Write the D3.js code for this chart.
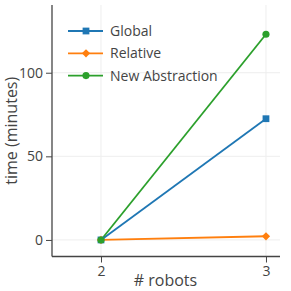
<!DOCTYPE html>
<html><head><meta charset="utf-8">
<script src="https://cdn.jsdelivr.net/npm/d3@7"></script>
<style>body{margin:0;background:#fff}svg{display:block}text{font-family:"Open Sans",sans-serif}</style>
</head><body>
<svg id="c" width="291" height="291"></svg>
<script>
const robots = [2, 3];
const seriesNames = ["Global", "Relative", "New Abstraction"];
const globalTimes = [0, 72.5];
const relativeTimes = [0, 2.2];
const abstractionTimes = [0, 123];
const yTicks = [0, 50, 100];
const colors = ["#1f77b4", "#ff7f0e", "#2ca02c"];
const allSeries = [globalTimes, relativeTimes, abstractionTimes];

const svg = d3.select("#c");
const L = 52, R = 280, T = 5, B = 256.5;
const x = d3.scaleLinear().domain([1.703, 3.085]).range([L, R]);
const y = d3.scaleLinear().domain([-9.9, 140.5]).range([B, T]);

function marker(g, k) {
  if (k === 0) g.attr("d", d3.symbol().type(d3.symbolSquare).size(46));
  else if (k === 1) g.attr("d", d3.symbol().type(d3.symbolSquare).size(34)).attr("transform", function () { return d3.select(this).attr("transform") + " rotate(45)"; });
  else g.attr("d", d3.symbol().type(d3.symbolCircle).size(40));
}

// grid
svg.append("g").selectAll("line").data(robots).join("line")
  .attr("x1", d => x(d)).attr("x2", d => x(d)).attr("y1", T).attr("y2", B)
  .attr("stroke", "#eee").attr("stroke-width", 1);
svg.append("g").selectAll("line").data(yTicks).join("line")
  .attr("x1", L).attr("x2", R).attr("y1", d => y(d)).attr("y2", d => y(d))
  .attr("stroke", "#eee").attr("stroke-width", 1);

// axes
const xAxis = svg.append("g").attr("transform", `translate(0,${B})`)
  .call(d3.axisBottom(x).tickValues(robots).tickFormat(d3.format("d")).tickSize(6).tickPadding(4).tickSizeOuter(0));
const yAxis = svg.append("g").attr("transform", `translate(${L},0)`)
  .call(d3.axisLeft(y).tickValues(yTicks).tickSize(6).tickPadding(3).tickSizeOuter(0));
[xAxis, yAxis].forEach(a => {
  a.select(".domain").attr("stroke", "#444").attr("stroke-width", 1.3);
  a.selectAll(".tick line").attr("stroke", "#444");
  a.selectAll(".tick text").attr("fill", "#444").style("font-size", "14px").style("font-family", "'Open Sans',sans-serif");
});
xAxis.select(".domain").attr("d", `M${L},0H${R}`);
yAxis.select(".domain").attr("d", `M0,${T}V${B}`);

// titles
svg.append("text").attr("x", 165.5).attr("y", 286).attr("text-anchor", "middle")
  .attr("fill", "#444").style("font-size", "16px").text("# robots");
svg.append("text").attr("transform", `translate(17,${(T + B) / 2}) rotate(-90)`).attr("text-anchor", "middle")
  .attr("fill", "#444").style("font-size", "16px").text("time (minutes)");

// lines and markers
const line = d3.line().x((d, i) => x(robots[i])).y(d => y(d));
allSeries.forEach((s, k) => {
  svg.append("path").datum(s).attr("d", line).attr("fill", "none")
    .attr("stroke", colors[k]).attr("stroke-width", 1.8);
});
allSeries.forEach((s, k) => {
  svg.append("g").selectAll("path").data(s).join("path")
    .attr("transform", (d, i) => `translate(${x(robots[i])},${y(d)})`)
    .attr("fill", colors[k]).call(marker, k);
});

// legend
const lg = svg.append("g");
seriesNames.forEach((n, k) => {
  const yy = 31 + k * 22.3;
  lg.append("line").attr("x1", 68).attr("x2", 103).attr("y1", yy).attr("y2", yy)
    .attr("stroke", colors[k]).attr("stroke-width", 1.8);
  lg.append("path").attr("transform", `translate(86,${yy})`)
    .attr("fill", colors[k]).call(marker, k);
  lg.append("text").attr("x", 110).attr("y", yy).attr("dy", "0.36em")
    .attr("fill", "#444").style("font-size", "14px").text(n);
});
</script>
</body></html>
